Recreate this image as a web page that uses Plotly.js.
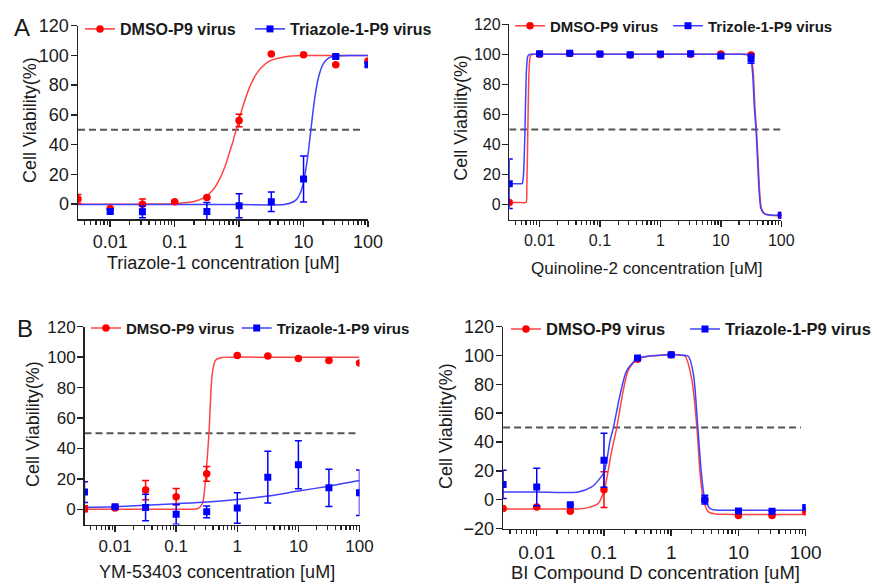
<!DOCTYPE html>
<html>
<head>
<meta charset="utf-8">
<script src="https://cdn.plot.ly/plotly-3.0.1.min.js"></script>
<style>html,body{margin:0;padding:0;background:#fff;}#chart{width:877px;height:584px;}</style>
</head>
<body>
<div id="chart"></div>
<script>
// ---------- data ----------
const conc = [0.00316, 0.01, 0.0316, 0.1, 0.316, 1, 3.16, 10, 31.6, 100];
const seriesNames = ["DMSO-P9 virus", "Triazole-1-P9 virus", "Trizole-1-P9 virus", "Trizaole-1-P9 virus"];
const xTitles = ["Triazole-1 concentration [uM]", "Quinoline-2 concentration [uM]", "YM-53403 concentration [uM]", "BI Compound D concentration [uM]"];
const yTitle = "Cell Viability(%)";
const panelLetters = ["A", "B"];
const thresholdY = [50, 50];

// Panel A : Triazole-1
const aDmso = [3.4, -3, 0, 1.6, 4.5, 56.2, 101, 100.4, 93.7, 96.2];
const aDmsoErr = [3, 0, 3.5, 0, 0, 4.2, 0, 0, 0, 0];
const aTri = [null, -4.9, -5.2, null, -4.9, -1.1, 1.6, 16.9, 99.3, 93.7];
const aTriErr = [0, 1, 4, 0, 6, 8, 6.5, 15.5, 1, 1];
const aDmsoFitX = [0.00316, 0.01, 0.05, 0.1, 0.2, 0.3, 0.4, 0.5, 0.6, 0.7, 0.8, 0.9, 1.0, 1.2, 1.5, 2, 3, 5, 10, 30, 100];
const aDmsoFitY = [0, 0, 0.05, 0.3, 1.7, 4.9, 10, 17, 25, 34, 42, 50, 57, 68.5, 80, 89.6, 96.3, 99, 99.9, 100, 100];
const aTriFitX = [0.00316, 0.01, 0.1, 1, 5, 7, 8, 9, 10, 11, 12, 13, 14, 15, 17, 20, 25, 31.6, 60, 100];
const aTriFitY = [-0.3, -0.3, -0.3, -0.3, -0.2, 1.6, 3.8, 8, 15, 25, 37, 50, 62, 72, 85, 94, 98.5, 99.6, 100, 100];
const aThresholdX = [0.00316, 85];

// Panel B : Quinoline-2
const bDmso = [1.5, 100, 100.5, 100, 99.5, 99.7, 100, 100.3, 99.5, -7];
const bDmsoErr = [0, 0, 0, 0, 0, 0, 0, 0, 0, 0];
const bTri = [13.9, 100.4, 100.7, 100.2, 99.8, 100.2, 100.4, 98.9, 97.1, -7];
const bTriErr = [16.5, 0, 0, 0, 0, 0, 0, 1, 3, 0];
const bDmsoFitX = [0.00316, 0.0045, 0.006, 0.00616, 0.00632, 0.0065, 0.00665, 0.0069, 0.0073, 0.008, 0.01, 0.1, 1, 10, 20, 28, 32, 34.5, 36.6, 38.8, 41, 43.6, 46.5, 51.5, 58, 70, 100];
const bDmsoFitY = [1.5, 1.5, 1.5, 10, 35, 65, 85, 97, 99.6, 100, 100, 100, 100, 100, 100, 99.8, 98, 87, 65, 50, 32, 10, -2, -5.5, -6.8, -7.2, -7.3];
const bTriFitX = [0.00316, 0.0042, 0.00516, 0.00543, 0.00571, 0.00601, 0.00632, 0.00665, 0.0072, 0.01, 0.1, 1, 10, 20, 28, 31.2, 33.6, 35.8, 38.2, 40.2, 42.8, 45.7, 50.5, 57.4, 70, 100];
const bTriFitY = [14, 14, 14, 20, 45, 85, 98, 99.7, 100, 100, 100, 100, 100, 100, 99.8, 98, 87, 65, 50, 32, 10, -2, -5.5, -6.6, -7, -7];
const bThresholdX = [0.00316, 100];

// Panel C : YM-53403
const cDmso = [0.4, 0.8, 12.6, 8.3, 23.3, 101, 100.7, 99.1, 97.8, 96.1];
const cDmsoErr = [2, 0, 6.4, 5.4, 4.8, 0, 0, 0, 0, 0];
const cTri = [11.3, 1.7, 1.1, -3.3, -1.7, 0.9, 21.1, 29.3, 14.1, 10.9];
const cTriErr = [6.8, 1, 8.7, 6.5, 3.8, 10, 17, 15.8, 12.2, 15];
const cDmsoFitX = [0.00316, 0.01, 0.05, 0.15, 0.2, 0.23, 0.27, 0.307, 0.344, 0.389, 0.44, 0.55, 0.8, 2, 10, 100];
const cDmsoFitY = [0, 0, 0, 0, 0.1, 0.6, 4, 23, 50, 89, 98, 99.8, 100, 100, 100, 100];
const cTriFitX = [0.00316, 0.01, 0.1, 0.316, 1, 3.16, 10, 31.6, 100];
const cTriFitY = [1.3, 1.7, 3.7, 4.8, 6.5, 8.7, 12, 15.2, 18.9];
const cThresholdX = [0.00316, 100];

// Panel D : BI Compound D
const dDmso = [-6.2, -5.1, -8.1, 6.9, 97.5, 100.5, 0, -10.9, -10.9, -8.3];
const dDmsoErr = [0, 0, 0, 12.4, 0, 0, 0, 0, 0, 0];
const dTri = [10.6, 8.8, -3.5, 27.3, 98.2, 100.5, 0, -7.9, -8.1, -5.5];
const dTriErr = [9.8, 13, 0, 18.7, 1, 1, 3, 0, 0, 0];
const dDmsoFitX = [0.00316, 0.01, 0.0416, 0.0586, 0.0826, 0.1014, 0.1306, 0.155, 0.194, 0.231, 0.318, 0.514, 0.8, 1.2, 1.61, 2.03, 2.41, 2.69, 3.02, 3.58, 4.5, 5.66, 10, 100];
const dDmsoFitY = [-6.5, -6.5, -6.4, -5.5, -2.5, 7, 34, 50, 76, 90, 97.7, 99.8, 100.4, 100.5, 99.5, 83, 50, 18, -0.5, -8.5, -9.9, -10.2, -10.3, -10.3];
const dTriFitX = [0.00316, 0.01, 0.0416, 0.0658, 0.0826, 0.1014, 0.1233, 0.138, 0.174, 0.218, 0.318, 0.514, 0.8, 1.3, 1.8, 2.14, 2.49, 2.79, 3.12, 3.79, 4.6, 5.66, 10, 100];
const dTriFitY = [5.3, 5.3, 5.4, 8.8, 13.4, 19.5, 41, 50, 73, 89.6, 98, 99.8, 100.4, 100.5, 99.5, 87, 50, 20, 2, -6.2, -7.2, -7.4, -7.4, -7.4];
const dThresholdX = [0.00316, 85];

// ---------- styling ----------
const FONT = "Liberation Sans, Arial, Helvetica, sans-serif";
const RED = "#ff0000", BLUE = "#0000ff";
const RED_LINE = "#ff4444", BLUE_LINE = "#4040ff";
const TXT = "#1a1a1a";
const W = 877, H = 584;
const px = v => v / W, py = v => 1 - v / H;

const traces = [];
function addPanel(n, fitR, fitB, ptsR, errR, ptsB, errB, thrX, blueName, legR, legB, smooth) {
  const xa = n === 1 ? "x" : "x" + n, ya = n === 1 ? "y" : "y" + n;
  traces.push({x: thrX, y: thresholdY, xaxis: xa, yaxis: ya, mode: "lines", showlegend: false, hoverinfo: "skip",
    line: {color: "#555", width: 2, dash: "7px,4px"}});
  traces.push({x: fitR[0], y: fitR[1], xaxis: xa, yaxis: ya, mode: "lines", showlegend: false,
    line: {color: RED_LINE, width: 1.5, shape: "spline", smoothing: smooth}});
  traces.push({x: fitB[0], y: fitB[1], xaxis: xa, yaxis: ya, mode: "lines", showlegend: false,
    line: {color: BLUE_LINE, width: 1.5, shape: "spline", smoothing: smooth}});
  traces.push({x: conc, y: ptsR, xaxis: xa, yaxis: ya, mode: "markers", showlegend: false,
    marker: {color: RED, size: 7.5, symbol: "circle"},
    error_y: {type: "data", array: errR, visible: true, color: RED, thickness: 1.5, width: 3.5}});
  traces.push({x: conc, y: ptsB, xaxis: xa, yaxis: ya, mode: "markers", showlegend: false,
    marker: {color: BLUE, size: 7, symbol: "square"},
    error_y: {type: "data", array: errB, visible: true, color: BLUE, thickness: 1.5, width: 3.5}});
  traces.push({x: [null], y: [null], xaxis: xa, yaxis: ya, mode: "lines+markers", name: seriesNames[0], legend: legR,
    line: {color: RED_LINE, width: 1.6}, marker: {color: RED, size: 7.5, symbol: "circle"}});
  traces.push({x: [null], y: [null], xaxis: xa, yaxis: ya, mode: "lines+markers", name: blueName, legend: legB,
    line: {color: BLUE_LINE, width: 1.6}, marker: {color: BLUE, size: 7, symbol: "square"}});
}
addPanel(1, [aDmsoFitX, aDmsoFitY], [aTriFitX, aTriFitY], aDmso, aDmsoErr, aTri, aTriErr, aThresholdX, seriesNames[1], "legend", "legend2", 0.8);
addPanel(2, [bDmsoFitX, bDmsoFitY], [bTriFitX, bTriFitY], bDmso, bDmsoErr, bTri, bTriErr, bThresholdX, seriesNames[2], "legend3", "legend4", 0.5);
addPanel(3, [cDmsoFitX, cDmsoFitY], [cTriFitX, cTriFitY], cDmso, cDmsoErr, cTri, cTriErr, cThresholdX, seriesNames[3], "legend5", "legend6", 0.7);
addPanel(4, [dDmsoFitX, dDmsoFitY], [dTriFitX, dTriFitY], dDmso, dDmsoErr, dTri, dTriErr, dThresholdX, seriesNames[1], "legend7", "legend8", 0.7);

function xAxis(domain, anchor, fs) {
  return {type: "log", range: [-2.5, 2], domain: domain, anchor: anchor, dtick: 1,
    showline: true, linecolor: "#222", linewidth: 1.5, ticks: "outside", ticklen: 6, tickwidth: 1.5, tickcolor: "#222",
    showgrid: false, zeroline: false, tickfont: {family: FONT, size: fs, color: TXT},
    minor: {ticks: "outside", ticklen: 4, tickwidth: 1.3, tickcolor: "#222", showgrid: false}};
}
function yAxis(domain, anchor, range, fs) {
  return {range: range, domain: domain, anchor: anchor, dtick: 20, tick0: 0,
    showline: true, linecolor: "#222", linewidth: 1.5, ticks: "outside", ticklen: 6, tickwidth: 1.5, tickcolor: "#222",
    ticklabelstandoff: -2,
    showgrid: false, zeroline: false, tickfont: {family: FONT, size: fs, color: TXT}};
}
function leg(x, y, fs) {
  return {x: px(x), y: py(y), xanchor: "left", yanchor: "middle", orientation: "h", bgcolor: "rgba(0,0,0,0)",
    borderwidth: 0, itemwidth: 30, font: {family: FONT, size: fs, color: TXT, weight: "bold"}};
}
function ann(text, x, y, fs, angle) {
  return {text: text, x: px(x), y: py(y), xref: "paper", yref: "paper", xanchor: "center", yanchor: "middle",
    showarrow: false, textangle: angle || 0, font: {family: FONT, size: fs, color: TXT}};
}

const layout = {
  width: W, height: H, margin: {l: 0, r: 0, t: 0, b: 0}, paper_bgcolor: "#fff", plot_bgcolor: "rgba(0,0,0,0)",
  xaxis: xAxis([px(78), px(368)], "y", 18),
  yaxis: yAxis([py(219), py(25.7)], "x", [-10, 120], 18),
  xaxis2: xAxis([px(509.3), px(781.3)], "y2", 16),
  yaxis2: yAxis([py(219.7), py(24.3)], "x2", [-10, 120], 16),
  xaxis3: xAxis([px(84.5), px(359.5)], "y3", 17),
  yaxis3: yAxis([py(524.5), py(326.7)], "x3", [-10, 120], 17),
  xaxis4: xAxis([px(503.1), px(805.7)], "y4", 19),
  yaxis4: yAxis([py(528.5), py(326.7)], "x4", [-20, 120], 18),
  legend: leg(80, 29, 16), legend2: leg(250, 29, 16),
  legend3: leg(510, 26, 15), legend4: leg(668, 26, 15),
  legend5: leg(86, 328.3, 15), legend6: leg(236.7, 328.3, 15),
  legend7: leg(506, 329.3, 16.5), legend8: leg(685, 329.3, 16.5),
  annotations: [
    ann(panelLetters[0], 22, 27, 24), ann(panelLetters[1], 25, 328, 24),
    ann(xTitles[0], 223.5, 263, 18), ann(yTitle, 30, 120, 18, -90),
    ann(xTitles[1], 646.7, 268, 17), ann(yTitle, 460.7, 118, 18, -90),
    ann(xTitles[2], 216.7, 571.7, 18), ann(yTitle, 33, 424, 18, -90),
    ann(xTitles[3], 655.8, 572.5, 18.5), ann(yTitle, 446, 426, 18, -90)
  ]
};

Plotly.newPlot("chart", traces, layout, {staticPlot: true, displayModeBar: false});
</script>
</body>
</html>
